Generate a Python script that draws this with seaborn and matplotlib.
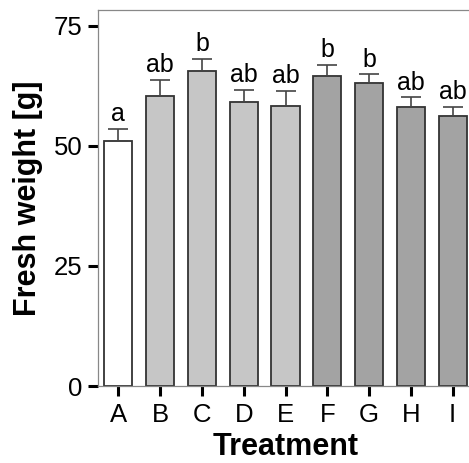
import matplotlib
matplotlib.use("Agg")
import matplotlib.pyplot as plt
import seaborn as sns
import numpy as np

treatments = ["A", "B", "C", "D", "E", "F", "G", "H", "I"]
fresh_weight = [51.0, 60.3, 65.5, 59.2, 58.4, 64.6, 63.0, 58.1, 56.2]
sem = [2.5, 3.5, 2.6, 2.5, 3.0, 2.2, 1.9, 2.0, 1.9]
letters = ["a", "ab", "b", "ab", "ab", "b", "b", "ab", "ab"]
bar_colors = ["#ffffff", "#c6c6c6", "#c6c6c6", "#c6c6c6", "#c6c6c6",
              "#a3a3a3", "#a3a3a3", "#a3a3a3", "#a3a3a3"]
y_ticks = [0, 25, 50, 75]

sns.set_style("ticks")
plt.rcParams["font.family"] = ["Liberation Sans", "DejaVu Sans"]
plt.rcParams["text.color"] = "black"
plt.rcParams["axes.labelcolor"] = "black"
plt.rcParams["xtick.color"] = "black"
plt.rcParams["ytick.color"] = "black"

fig = plt.figure(figsize=(4.69, 4.63), dpi=100)
ax = fig.add_axes([98 / 469, 77 / 463, 375 / 469, 376 / 463])

sns.barplot(x=treatments, y=fresh_weight, hue=treatments, palette=bar_colors,
            legend=False, width=0.67, edgecolor="#333333", linewidth=1.3,
            errorbar=None, ax=ax, saturation=1)

xpos = np.arange(len(treatments))
ax.errorbar(xpos, fresh_weight, yerr=[np.zeros(len(sem)), sem], fmt="none",
            ecolor="#444444", elinewidth=1.2, capsize=7, capthick=1.2, zorder=3)

for x, v, e, t in zip(xpos, fresh_weight, sem, letters):
    ax.annotate(t, (x, v + e), xytext=(0, 2), textcoords="offset points",
                ha="center", va="bottom", fontsize=18, color="black")

ax.set_xlim(-0.486, 8.486)
ax.set_ylim(0, 78.3)
ax.set_yticks(y_ticks)
ax.tick_params(axis="both", direction="out", length=7, width=2.2,
               color="black", labelcolor="black", labelsize=18.5)
ax.tick_params(axis="x", pad=5)
ax.tick_params(axis="y", pad=4)
for s in ["left", "bottom", "top", "right"]:
    ax.spines[s].set_color("#888888")
    ax.spines[s].set_linewidth(0.9)

ax.set_xlabel("Treatment", fontsize=22, fontweight="bold", labelpad=4, color="black")
ax.set_ylabel("Fresh weight [g]", fontsize=22, fontweight="bold", labelpad=8, color="black")

fig.savefig("out.png", dpi=100)
